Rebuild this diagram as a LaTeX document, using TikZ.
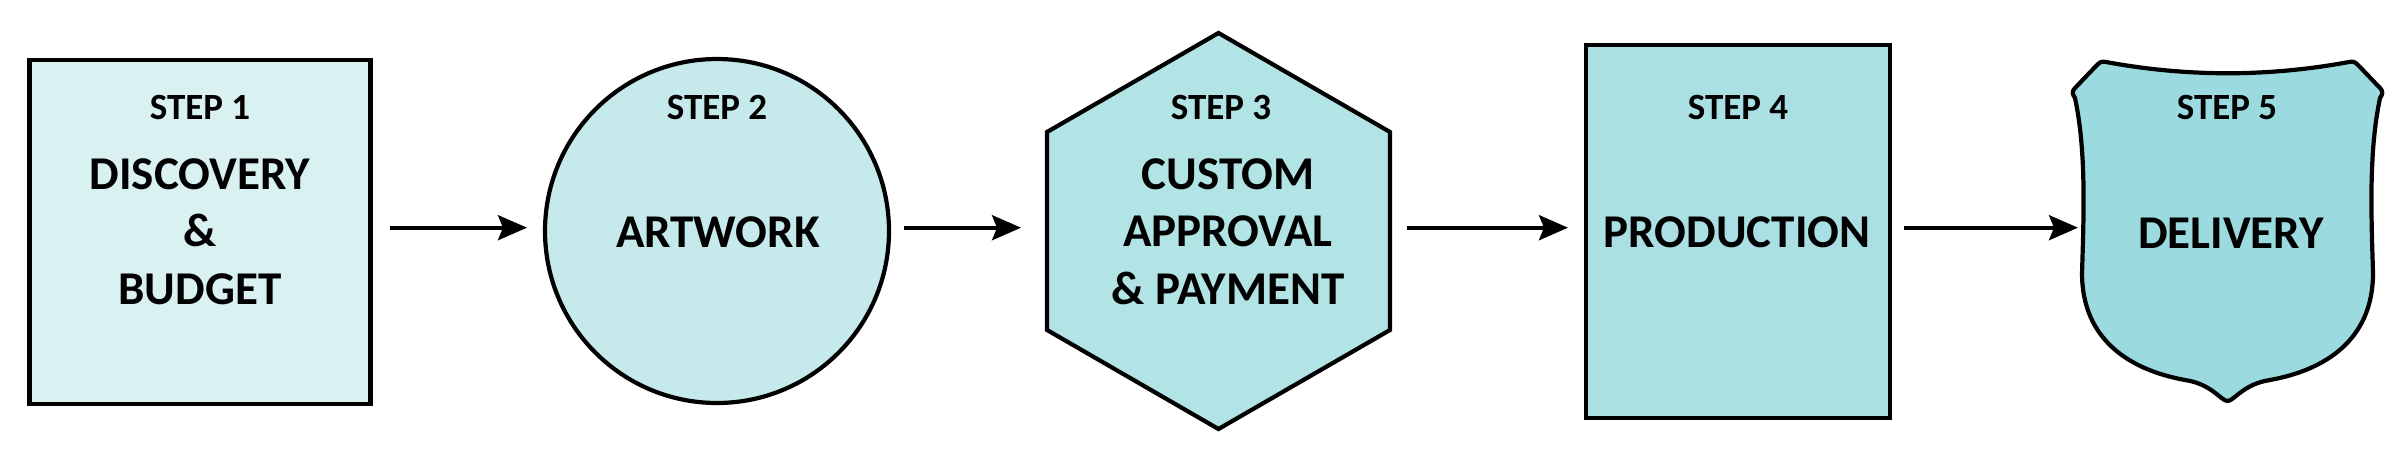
\documentclass[tikz,border=0pt]{standalone}
\usepackage{fontspec}
\setmainfont{Carlito}
\usetikzlibrary{shapes.geometric,arrows.meta,calc}
\definecolor{fillA}{RGB}{218,241,242}
\definecolor{fillB}{RGB}{198,234,236}
\definecolor{fillC}{RGB}{178,227,229}
\definecolor{fillD}{RGB}{170,224,228}
\definecolor{fillE}{RGB}{155,219,224}
\begin{document}
\begin{tikzpicture}[x=1pt,y=-1pt,
  shapebox/.style={draw=black,line width=4.2pt,inner sep=0pt,outer sep=0pt},
  steptext/.style={font=\fontsize{37}{44}\selectfont\bfseries,anchor=base,inner sep=0pt},
  maintext/.style={font=\fontsize{47}{57}\selectfont\bfseries,anchor=base,inner sep=0pt},
  arr/.style={line width=3.6pt,-{Stealth[length=29pt,width=25pt,inset=5pt]}}]
\useasboundingbox (0,0) rectangle (2408,456);
\coordinate (ay) at (0,227.7);
% shapes
\node[shapebox,fill=fillA,rectangle,minimum width=341pt,minimum height=344pt] (b1) at (200,232) {};
\node[shapebox,fill=fillB,circle,minimum size=344pt] (c2) at (717,231) {};
\node[shapebox,fill=fillC,regular polygon,regular polygon sides=6,shape border rotate=30,minimum size=396pt] (h3) at (1218.5,231) {};
\node[shapebox,fill=fillD,rectangle,minimum width=304pt,minimum height=373pt] (b4) at (1738,231.5) {};
\node[inner sep=0pt,outer sep=0pt,minimum width=289pt,minimum height=340pt] (s5) at (2227.5,231) {};
\draw[line width=4.2pt,fill=fillE,line join=round]
  (2227.5,401)
  .. controls (2221,401) and (2212,384) .. (2185,380)
  .. controls (2130,370) and (2082,340) .. (2082,273)
  .. controls (2084,210) and (2086,150) .. (2075,98)
  .. controls (2072,94) and (2072,91) .. (2075,88)
  -- (2097,65)
  .. controls (2100,62) and (2102,61) .. (2106,62)
  .. controls (2187,77) and (2268,77) .. (2349,62)
  .. controls (2353,61) and (2355,62) .. (2358,65)
  -- (2380,88)
  .. controls (2383,91) and (2383,94) .. (2380,98)
  .. controls (2369,150) and (2371,210) .. (2373,273)
  .. controls (2373,340) and (2325,370) .. (2270,380)
  .. controls (2243,384) and (2234,401) .. (2227.5,401)
  -- cycle;
% texts
\node[steptext] (l1) at (200,119.5) {STEP 1};
\node[maintext] (t1a) at (200,189) {DISCOVERY};
\node[maintext] (t1b) at (200,246.5) {\&};
\node[maintext] (t1c) at (200,304) {BUDGET};
\node[steptext] (l2) at (717,119.5) {STEP 2};
\node[maintext] (t2a) at (718,247) {ARTWORK};
\node[steptext] (l3) at (1221,119.5) {STEP 3};
\node[maintext] (t3a) at (1228,189) {CUSTOM};
\node[maintext] (t3b) at (1228,246.5) {APPROVAL};
\node[maintext] (t3c) at (1228,304) {\& PAYMENT};
\node[steptext] (l4) at (1738,119.5) {STEP 4};
\node[maintext] (t4a) at (1737,247) {PRODUCTION};
\node[steptext] (l5) at (2227,119.5) {STEP 5};
\node[maintext] (t5a) at (2231,248) {DELIVERY};
% arrows
\draw[arr] ($(b1.east |- ay)+(19,0)$) -- ($(c2.west |- ay)+(-18,0)$);
\draw[arr] ($(c2.east |- ay)+(15,0)$) -- ($(h3.west |- ay)+(-26,0)$);
\draw[arr] ($(h3.east |- ay)+(17,0)$) -- ($(b4.west |- ay)+(-18,0)$);
\draw[arr] ($(b4.east |- ay)+(14,0)$) -- ($(s5.west |- ay)+(-5,0)$);
\end{tikzpicture}
\end{document}
